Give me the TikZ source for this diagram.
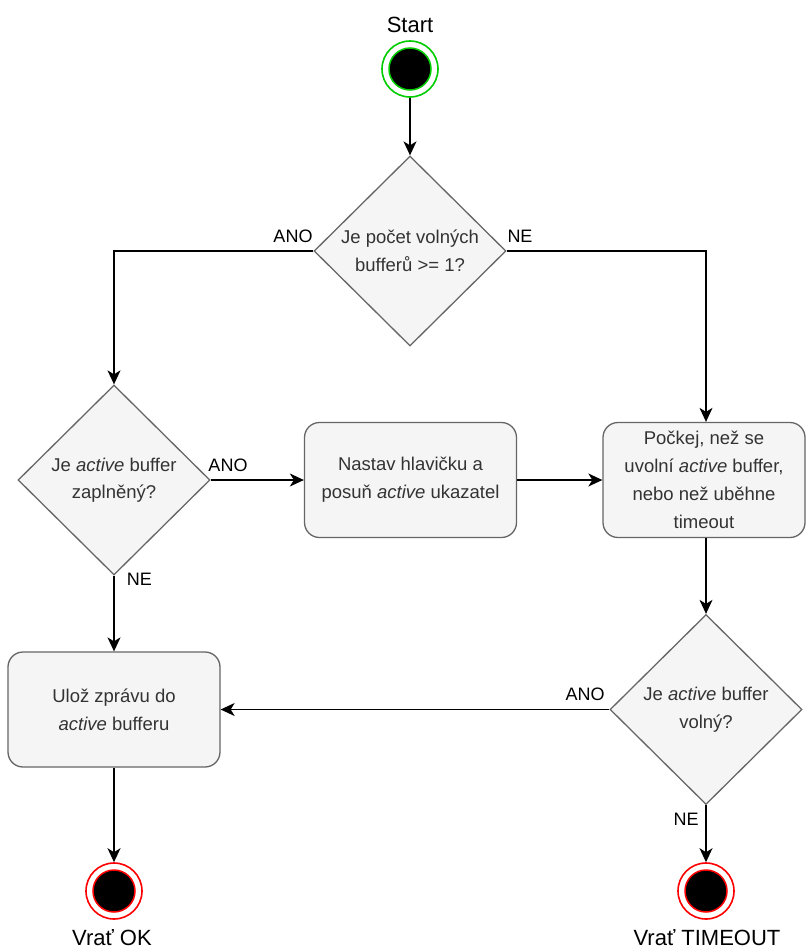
\documentclass[tikz,border=0pt]{standalone}
\usepackage{fontspec}
\setmainfont{Liberation Sans}
\usetikzlibrary{shapes.geometric,arrows.meta}
\definecolor{nodefill}{HTML}{F5F5F5}
\definecolor{nodeline}{HTML}{666666}
\definecolor{nodetext}{HTML}{333333}
\definecolor{startgreen}{HTML}{00CC00}
\definecolor{endred}{HTML}{FF0000}
\tikzset{
  dia/.style={diamond, aspect=1, draw=nodeline, fill=nodefill, line width=1.3pt,
    minimum width=192pt, minimum height=190pt, inner sep=0pt, align=center,
    text=nodetext, font=\fontsize{18.5}{27.5}\selectfont},
  proc/.style={rectangle, rounded corners=15pt, draw=nodeline, fill=nodefill, line width=1.3pt,
    minimum height=115pt, inner sep=0pt, align=center,
    text=nodetext, font=\fontsize{18.5}{28}\selectfont},
  ring/.style={circle, minimum size=56pt, inner sep=0pt, fill=white, line width=1.6pt},
  conn/.style={line width=1.4pt, -{Stealth[length=14pt, width=13pt, inset=4pt]}},
  lbl/.style={font=\fontsize{18}{22}\selectfont, anchor=base, inner sep=0pt},
  term/.style={font=\fontsize{22}{26}\selectfont, anchor=base, inner sep=0pt},
}
\begin{document}
\begin{tikzpicture}[x=1pt, y=-1pt]
\useasboundingbox[fill=white] (0,0) rectangle (807,951);

% start
\node[term] (startlbl) at (410,32) {Start};
\node[ring, draw=startgreen] (s) at (410,69) {};
\fill[black, draw=startgreen, line width=1.5pt] (s.center) circle (21pt);

% decisions and processes
\node[dia] (d1) at (410,251) {Je počet volných\\bufferů >= 1?};
\node[dia] (d2) at (114,480) {Je \textit{active} buffer\\zaplněný?};
\node[proc, minimum width=212pt] (b2) at (410.5,480) {Nastav hlavičku a\\posuň \textit{active} ukazatel};
\node[proc, minimum width=202pt] (b3) at (704,480) {Počkej, než se\\uvolní \textit{active} buffer,\\nebo než uběhne\\timeout};
\node[dia] (d3) at (706,709.5) {Je \textit{active} buffer\\volný?};
\node[proc, minimum width=212pt] (b4) at (114,709.5) {Ulož zprávu do\\\textit{active} bufferu};

% ends
\node[ring, draw=endred] (e1) at (114,891) {};
\fill[black, draw=endred, line width=1.5pt] (e1.center) circle (21pt);
\node[ring, draw=endred] (e2) at (706,891) {};
\fill[black, draw=endred, line width=1.5pt] (e2.center) circle (21pt);
\node[term] (e1lbl) at (112,945) {Vrať OK};
\node[term] (e2lbl) at (707,945) {Vrať TIMEOUT};

% connectors
\draw[conn] (s) -- (d1.north);
\draw[conn] (d1.west) -| (d2.north);
\draw[conn] (d1.east) -| (d3.north |- b3.north);
\draw[conn] (d2.east) -- (b2.west);
\draw[conn] (b2.east) -- (b3.west);
\draw[conn] (d2.south) -- (b4.north);
\draw[conn] (d3.north |- b3.south) -- (d3.north);
\draw[conn] (d3.west) -- (b4.east);
\draw[conn] (b4.south) -- (e1.north);
\draw[conn] (d3.south) -- (e2.north);

% edge labels
\node[lbl] (l1) at (293,242) {ANO};
\node[lbl] (l2) at (520,242) {NE};
\node[lbl] (l3) at (228,471) {ANO};
\node[lbl] (l4) at (139.5,585) {NE};
\node[lbl] (l5) at (585,700) {ANO};
\node[lbl] (l6) at (686,825) {NE};
\end{tikzpicture}
\end{document}
